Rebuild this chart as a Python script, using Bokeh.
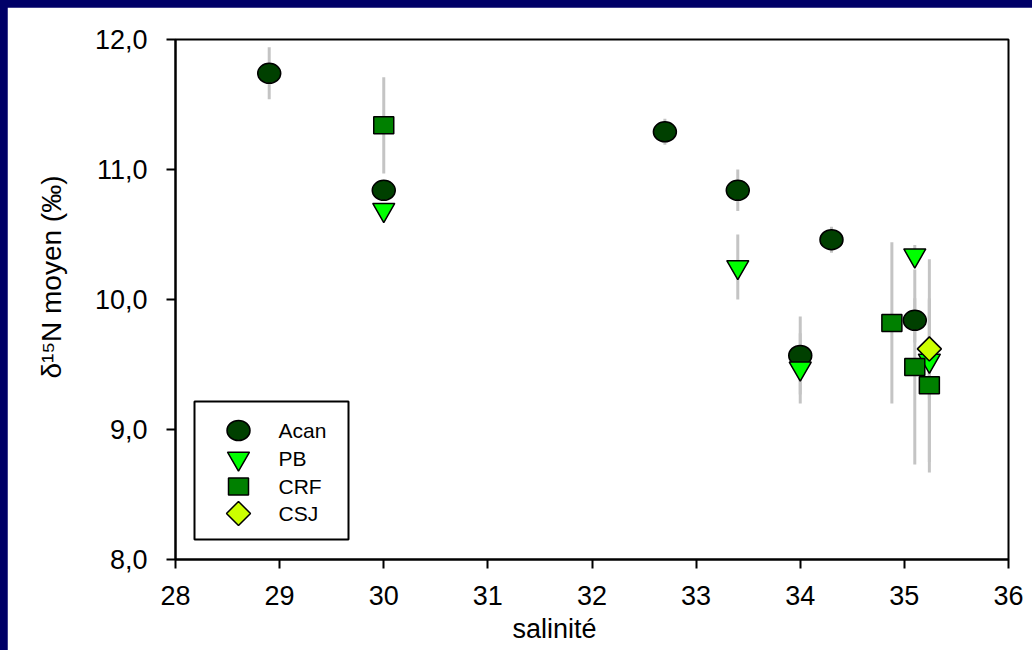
import numpy as np
from bokeh.plotting import figure
from bokeh.models import Range1d, FixedTicker, Label, Title, CustomJSTickFormatter
from bokeh.layouts import column
from bokeh.embed import file_html
from bokeh.resources import INLINE

# ---- data: mean d15N (permil) by salinity, with spread ----
acan_sal = [28.9, 30.0, 32.7, 33.4, 34.0, 34.3, 35.1]
acan_d15n = [11.74, 10.84, 11.29, 10.84, 9.57, 10.46, 9.84]
acan_err = [0.20, 0.06, 0.10, 0.16, 0.30, 0.10, 0.17]

pb_sal = [30.0, 33.4, 34.0, 35.1, 35.24]
pb_d15n = [10.69, 10.25, 9.47, 10.34, 9.53]
pb_err = [0.05, 0.25, 0.27, 0.08, 0.78]

crf_sal = [30.0, 34.88, 35.1, 35.24]
crf_d15n = [11.34, 9.82, 9.48, 9.34]
crf_err = [0.37, 0.62, 0.75, 0.67]

csj_sal = [35.24]
csj_d15n = [9.62]
csj_err = [0.38]

series_names = ["Acan", "PB", "CRF", "CSJ"]
x_ticks = [28, 29, 30, 31, 32, 33, 34, 35, 36]
y_ticks = [8, 9, 10, 11, 12]

FONT = "Liberation Sans"
NAVY = "#000068"
C_ACAN, C_PB, C_CRF, C_CSJ = "#004000", "#00FF00", "#008000", "#CCFF00"
ERR_COLOR = "#C4C4C4"

# page geometry (pixels): navy edge, plot frame
EDGE = 7
FL, FR, FT, FB = 175, 1008, 39, 559
XMIN, XMAX, YMIN, YMAX = 28.0, 36.0, 8.0, 12.0
W, H = 1032, 650


def px_x(px):
    return XMIN + (px - FL) * (XMAX - XMIN) / (FR - FL)


def px_y(py):
    return YMAX - (py - FT) * (YMAX - YMIN) / (FB - FT)


# the canvas starts EDGE px in from the top/left page corner
p = figure(width=W, height=H, output_backend="svg", toolbar_location=None,
           x_range=Range1d(XMIN, XMAX), y_range=Range1d(YMIN, YMAX),
           min_border_left=FL - EDGE, min_border_right=W - FR + EDGE,
           min_border_top=FT - EDGE, min_border_bottom=H - FB + EDGE,
           background_fill_color="white", border_fill_color="white")
p.margin = (EDGE, 0, 0, EDGE)
p.grid.visible = False
p.outline_line_color = "black"
p.outline_line_width = 2

for ax in (p.xaxis[0], p.yaxis[0]):
    ax.axis_line_width = 2
    ax.major_tick_line_width = 2
    ax.major_tick_out = 9
    ax.major_tick_in = 0
    ax.minor_tick_line_color = None
    ax.major_label_text_font = FONT
    ax.major_label_text_font_size = "27px"
    ax.major_label_text_color = "black"

p.xaxis.ticker = FixedTicker(ticks=x_ticks)
p.yaxis.ticker = FixedTicker(ticks=y_ticks)
p.yaxis.formatter = CustomJSTickFormatter(code="return tick.toFixed(1).replace('.', ',')")
p.xaxis.major_label_standoff = 17
p.yaxis.major_label_standoff = 19

# axis titles as side-panel titles
p.add_layout(Title(text="salinité", align="left", offset=337, standoff=9,
                   text_font=FONT, text_font_size="27px", text_font_style="normal",
                   text_color="black"), "below")
p.add_layout(Title(text="δ¹⁵N moyen  (‰)", align="left", offset=181, standoff=50,
                   text_font=FONT, text_font_size="28px", text_font_style="normal",
                   text_color="black"), "left")


def err_bars(xs, ys, es):
    p.segment(x0=xs, x1=xs,
              y0=[y - e for y, e in zip(ys, es)],
              y1=[y + e for y, e in zip(ys, es)],
              line_color=ERR_COLOR, line_width=3)


for xs, ys, es in [(acan_sal, acan_d15n, acan_err), (pb_sal, pb_d15n, pb_err),
                   (crf_sal, crf_d15n, crf_err), (csj_sal, csj_d15n, csj_err)]:
    err_bars(xs, ys, es)


def draw_acan(xs, ys):
    p.ellipse(x=xs, y=ys, width=23, height=20, width_units="screen", height_units="screen",
              fill_color=C_ACAN, line_color="black", line_width=1.5)


def draw_pb(xs, ys):
    p.scatter(x=xs, y=ys, marker="inverted_triangle", size=22,
              fill_color=C_PB, line_color="black", line_width=1.5)


def draw_crf(xs, ys):
    p.rect(x=xs, y=ys, width=20, height=17, width_units="screen", height_units="screen",
           fill_color=C_CRF, line_color="black", line_width=1.5)


def draw_csj(xs, ys):
    p.scatter(x=xs, y=ys, marker="square", angle=np.pi / 4, size=17,
              fill_color=C_CSJ, line_color="black", line_width=1.5)


draw_acan(acan_sal, acan_d15n)
draw_pb(pb_sal, pb_d15n)
draw_crf(crf_sal, crf_d15n)
draw_csj(csj_sal, csj_d15n)

# ---- legend block ----
p.quad(left=[px_x(194)], right=[px_x(348)], bottom=[px_y(539)], top=[px_y(401)],
       fill_color="white", line_color="black", line_width=2)
rows = [430, 458, 486, 513]
mx = px_x(238)
draw_acan([mx], [px_y(rows[0])])
draw_pb([mx], [px_y(rows[1])])
draw_crf([mx], [px_y(rows[2])])
draw_csj([mx], [px_y(rows[3])])
for name, ry in zip(series_names, rows):
    p.add_layout(Label(x=px_x(278), y=px_y(ry), text=name, text_font=FONT,
                       text_font_size="21px", text_baseline="middle", text_align="left",
                       text_color="black"))

layout = column(p, styles={"background-color": NAVY}, margin=0)

with open("out.html", "w") as f:
    f.write(file_html(layout, INLINE))
